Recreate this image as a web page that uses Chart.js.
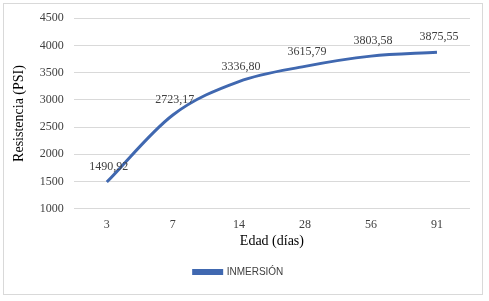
<!DOCTYPE html>
<html><head><meta charset="utf-8">
<script src="https://cdn.jsdelivr.net/npm/chart.js@4/dist/chart.umd.min.js"></script>
<style>
html,body{margin:0;padding:0;background:#fff;}
#frame{position:absolute;left:3px;top:3px;width:480px;height:292px;border:1px solid #d9d9d9;box-sizing:border-box;}
#c{position:absolute;left:4px;top:1px;display:block;}
</style></head><body>
<div id="frame"></div>
<canvas id="c" width="480" height="292"></canvas>
<script>
const categories = ["3","7","14","28","56","91"];
const values = [1490.92, 2723.17, 3336.80, 3615.79, 3803.58, 3875.55];
const valueLabels = ["1490,92","2723,17","3336,80","3615,79","3803,58","3875,55"];
const seriesName = "INMERSIÓN";
const yTicks = [1000,1500,2000,2500,3000,3500,4000,4500];

const labelPlugin = {
  id:'lbl',
  afterDatasetsDraw(chart){
    const ctx = chart.ctx;
    const meta = chart.getDatasetMeta(0);
    ctx.save();
    ctx.font = '12px "Liberation Serif", serif';
    ctx.fillStyle = '#404040';
    ctx.textAlign = 'center';
    ctx.textBaseline = 'bottom';
    meta.data.forEach((p,i)=>{
      ctx.fillText(valueLabels[i], p.x+2, p.y-9);
    });
    ctx.restore();
  }
};

new Chart(document.getElementById('c'), {
  type:'line',
  data:{labels:categories, datasets:[{label:seriesName, data:values, borderColor:'#4068b0', borderWidth:3, pointRadius:0, cubicInterpolationMode:'monotone', fill:false}]},
  options:{
    responsive:false, animation:false,
    layout:{padding:{left:3,right:14,top:0,bottom:6}},
    plugins:{
      legend:{position:'bottom', labels:{boxWidth:28, boxHeight:3, color:'#404040', font:{family:'"Liberation Sans", Arial, sans-serif', size:10}, padding:17}},
      tooltip:{enabled:false}
    },
    scales:{
      x:{offset:true, grid:{display:false}, border:{display:false},
         ticks:{color:'#404040', font:{family:'"Liberation Serif", serif', size:12}, padding:1},
         title:{display:true, text:'Edad (días)', color:'#000', font:{family:'"Liberation Serif", serif', size:14}, padding:{top:0,bottom:0}}},
      y:{min:1000, max:4500, afterBuildTicks:(s)=>{s.ticks=yTicks.map(v=>({value:v}));},
         grid:{color:'#d9d9d9', drawTicks:false}, border:{display:false},
         ticks:{color:'#404040', font:{family:'"Liberation Serif", serif', size:12}, padding:10, callback:(v)=>String(v)},
         title:{display:true, text:'Resistencia (PSI)', color:'#000', font:{family:'"Liberation Serif", serif', size:14}, padding:{bottom:2}}}
    }
  },
  plugins:[labelPlugin]
});
</script>
</body></html>
